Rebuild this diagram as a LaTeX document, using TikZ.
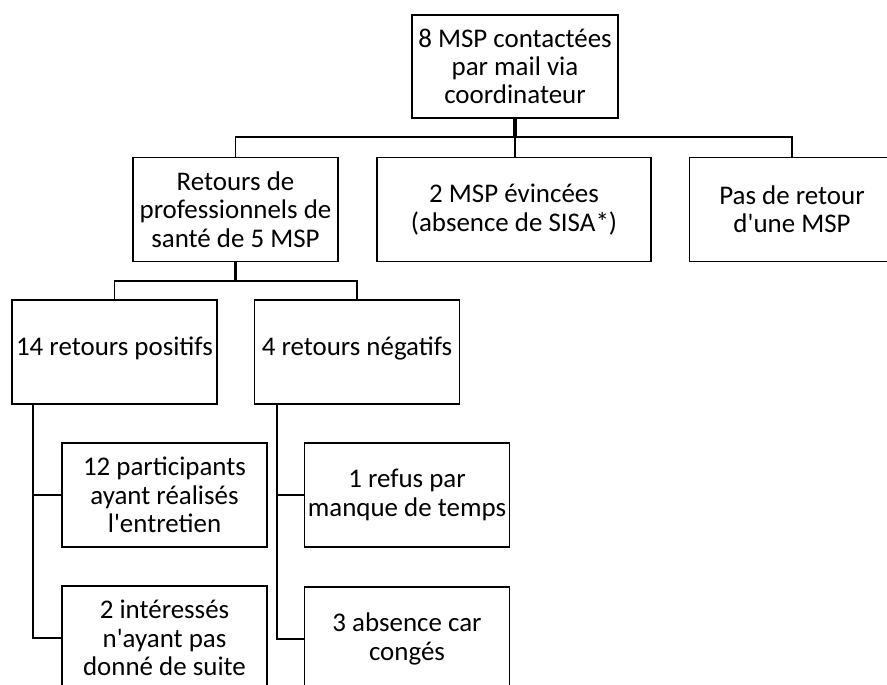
\documentclass[tikz,border=0pt]{standalone}
\usepackage{fontspec}
\setmainfont{Carlito}
\newcommand\ap{\textquotesingle}
\begin{document}
\begin{tikzpicture}[x=0.75pt,y=-0.75pt,
  box/.style={draw=black,line width=1.2pt,fill=white,align=center,inner sep=0pt,
    font=\fontsize{20.2}{21.3}\selectfont,minimum height=78pt},
  w205/.style={minimum width=154pt},
  oneline/.style={text height=0.72em,text depth=0.2em},
  link/.style={line width=1.3pt},
  stem/.style={line width=2.4pt}]
\useasboundingbox (0,0) rectangle (887,684);
\clip (0,0) rectangle (887,684);
\fill[white] (0,0) rectangle (887,684);
% nodes
\node[box,minimum width=154.5pt,minimum height=77pt] (top) at (515,66.5) {8 MSP contactées\\par mail via\\coordinateur};
\node[box,w205] (ret) at (235.5,209.5) {Retours de\\professionnels de\\santé de 5 MSP};
\node[box,minimum width=205.5pt] (evi) at (514,209.5) {2 MSP évincées\\(absence de SISA*)};
\node[box,w205] (pas) at (792,209.5) {Pas de retour\\d\ap une MSP};
\node[box,w205,oneline] (pos) at (114.5,352) {14 retours positifs};
\node[box,w205,oneline] (neg) at (357,352) {4 retours négatifs};
\node[box,w205] (p1) at (164.5,495) {12 participants\\ayant réalisés\\l\ap entretien};
\node[box,w205] (p2) at (164.5,638) {2 intéressés\\n\ap ayant pas\\donné de suite};
\node[box,w205] (n1) at (407,495) {1 refus par\\manque de temps};
\node[box,w205] (n2) at (407,639) {3 absence car\\congés};
% bus coordinates
\coordinate (bus1) at (0,137);
\coordinate (bus2) at (0,281);
\coordinate (lv) at (33,0);
\coordinate (rv) at (277,0);
% top level connectors
\draw[stem] (top.south) -- (top.south |- bus1);
\draw[link] (top.south |- bus1) -| (ret.north);
\draw[link] (top.south |- bus1) -| (pas.north);
\draw[link] (top.south |- bus1) -- (evi.north -| top.south);
% second level
\draw[stem] (ret.south) -- (ret.south |- bus2);
\draw[link] (ret.south |- bus2) -| (pos.north);
\draw[link] (ret.south |- bus2) -| (neg.north);
% third level
\draw[link] (pos.south -| lv) |- (p1.west);
\draw[link] (pos.south -| lv) |- (p2.west);
\draw[link] (neg.south -| rv) |- (n1.west);
\draw[link] (neg.south -| rv) |- (n2.west);
\end{tikzpicture}
\end{document}
